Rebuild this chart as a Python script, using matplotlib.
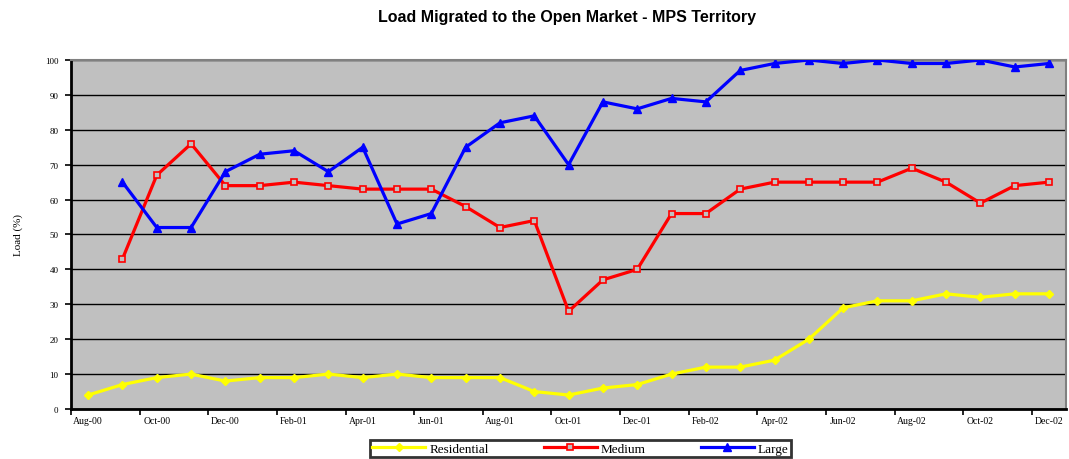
import matplotlib
matplotlib.use('Agg')
from matplotlib import pyplot as plt

months = ['Aug-00', 'Sep-00', 'Oct-00', 'Nov-00', 'Dec-00', 'Jan-01', 'Feb-01', 'Mar-01',
          'Apr-01', 'May-01', 'Jun-01', 'Jul-01', 'Aug-01', 'Sep-01', 'Oct-01', 'Nov-01',
          'Dec-01', 'Jan-02', 'Feb-02', 'Mar-02', 'Apr-02', 'May-02', 'Jun-02', 'Jul-02',
          'Aug-02', 'Sep-02', 'Oct-02', 'Nov-02', 'Dec-02']

residential = [4, 7, 9, 10, 8, 9, 9, 10, 9, 10, 9, 9, 9, 5, 4, 6, 7, 10, 12, 12, 14, 20,
               29, 31, 31, 33, 32, 33, 33]
# medium and large start in Sep-00
medium = [43, 67, 76, 64, 64, 65, 64, 63, 63, 63, 58, 52, 54, 28, 37, 40, 56, 56, 63, 65,
          65, 65, 65, 69, 65, 59, 64, 65]
large = [65, 52, 52, 68, 73, 74, 68, 75, 53, 56, 75, 82, 84, 70, 88, 86, 89, 88, 97, 99,
         100, 99, 100, 99, 99, 100, 98, 99]

x_res = list(range(len(residential)))
x_big = list(range(1, len(medium) + 1))

fig = plt.figure(figsize=(10.69, 4.6), dpi=100)
ax = fig.add_axes([0.0664, 0.1087, 0.931, 0.7587])
ax.set_facecolor('#C0C0C0')

ax.plot(x_res, residential, color='#FFFF00', lw=2.3, marker='D', ms=4,
        mfc='#FFFF00', mec='#FFFF00', label='Residential', zorder=3)
ax.plot(x_big, medium, color='#FF0000', lw=2.3, marker='s', ms=4.5,
        mfc='#C0C0C0', mec='#FF0000', mew=1.2, label='Medium', zorder=3)
ax.plot(x_big, large, color='#0000FF', lw=2.3, marker='^', ms=5.5,
        mfc='#0000FF', mec='#0000FF', label='Large', zorder=4)

ax.set_xlim(-0.5, len(months) - 0.5)
ax.set_ylim(0, 100)
ax.set_yticks(range(0, 101, 10))
ax.yaxis.grid(True, color='black', lw=1)
ax.set_axisbelow(True)

ax.set_xticks([i - 0.5 for i in range(0, len(months), 2)])
ax.set_xticklabels([])
ax.set_xticks(list(range(0, len(months), 2)), minor=True)
ax.set_xticklabels(months[::2], minor=True, fontsize=7, family='Liberation Serif')
ax.tick_params(axis='x', which='minor', length=0, pad=5)
ax.tick_params(axis='x', which='major', length=4, width=1.2, direction='out')
ax.tick_params(axis='y', length=4, width=1.2, labelsize=6.5, pad=5)
for lab in ax.get_yticklabels():
    lab.set_family('Liberation Serif')

for side in ['top', 'right']:
    ax.spines[side].set_color('#808080')
    ax.spines[side].set_linewidth(1.5)
for side in ['left', 'bottom']:
    ax.spines[side].set_color('black')
    ax.spines[side].set_linewidth(2)

ax.set_ylabel('Load (%)', fontsize=8, family='Liberation Serif', labelpad=16)

fig.text(0.53, 0.962, 'Load Migrated to the Open Market - MPS Territory', ha='center',
         va='center', fontsize=11.5, fontweight='bold', family='Liberation Sans')

leg = fig.legend(loc='center', bbox_to_anchor=(0.543, 0.023), ncol=3,
                 frameon=True, fancybox=False, edgecolor='black',
                 prop={'family': 'Liberation Serif', 'size': 9.5},
                 handlelength=4, columnspacing=4.2, borderpad=0.2, handletextpad=0.3)
leg.get_frame().set_linewidth(2)

fig.savefig('out.png', dpi=100, facecolor='white')
